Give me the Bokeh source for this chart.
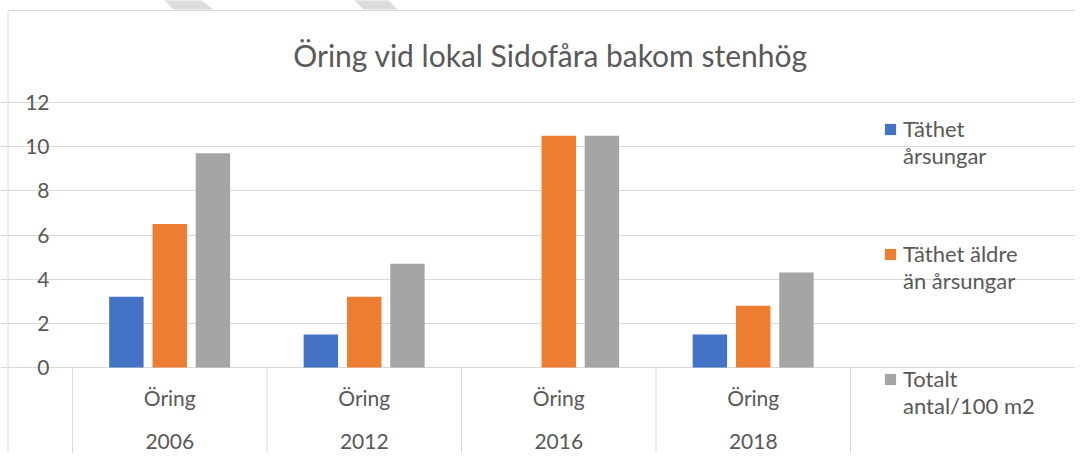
from bokeh.plotting import figure
from bokeh.models import Range1d, FixedTicker, Legend, LegendItem, Label, Grid
from bokeh.core.properties import value
from bokeh.embed import file_html
from bokeh.resources import INLINE

# ---- data ----
years = ["2006", "2012", "2016", "2018"]
species = ["Öring", "Öring", "Öring", "Öring"]
tathet_arsungar = [3.2, 1.5, 0.0, 1.5]
tathet_aldre = [6.5, 3.2, 10.5, 2.8]
totalt = [9.7, 4.7, 10.5, 4.3]
series_names = ["Täthet\nårsungar", "Täthet äldre\nän årsungar", "Totalt\nantal/100 m2"]
y_ticks = [0, 2, 4, 6, 8, 10, 12]
title_text = "Öring vid lokal Sidofåra bakom stenhög"

# ---- style / layout (pixels) ----
FONT = "Lato"
TXT = "#595959"
GRID = "#d9d9d9"
colors = ["#4472C4", "#ED7D31", "#A5A5A5"]

W, H = 1075, 453
n = len(years)
X0_PX = 72          # left edge of first category
PX_PER_X = 194.5    # width of one category
Y0_PX = 367         # baseline
PX_PER_Y = 22.083   # pixels per unit

x_start = -X0_PX / PX_PER_X
x_end = (W - X0_PX) / PX_PER_X
y_end = Y0_PX / PX_PER_Y
y_start = -(H - Y0_PX) / PX_PER_Y


def sx(px):
    return x_start + px / PX_PER_X


def sy(py):
    return y_end - py / PX_PER_Y


p = figure(width=W, height=H, output_backend="svg", toolbar_location=None,
           x_range=Range1d(x_start, x_end), y_range=Range1d(y_start, y_end),
           x_axis_type=None, y_axis_type=None,
           min_border_left=0, min_border_right=0, min_border_top=0, min_border_bottom=0)
p.outline_line_color = None
p.background_fill_color = "white"
p.border_fill_color = "white"

# decorative page fragments above the chart box
p.patches(xs=[[sx(163), sx(200), sx(213), sx(173)], [sx(353), sx(387), sx(397), sx(363)]],
          ys=[[sy(-1), sy(-1), sy(9), sy(9)], [sy(-1), sy(-1), sy(9), sy(9)]],
          fill_color="#dcdcdc", line_color=None)

# horizontal grid over the category area only
grid = Grid(dimension=1, ticker=FixedTicker(ticks=y_ticks), bounds=(0, n),
            grid_line_color=GRID, grid_line_width=1)
p.add_layout(grid)

# chart border (outer frame of the chart area)
p.quad(left=[sx(7.5)], right=[x_end + 1], top=[sy(10)], bottom=[y_start - 1],
       fill_color=None, line_color=GRID, line_width=1)

# y tick labels
p.text(x=[0] * len(y_ticks), y=y_ticks, text=[str(t) for t in y_ticks], x_offset=-23,
       text_align="right", text_baseline="middle", text_font=value(FONT),
       text_font_size=value("21px"), text_color=TXT)

# bars
offsets = [-0.223, 0.0, 0.222]
bar_w = 0.177
series = [tathet_arsungar, tathet_aldre, totalt]
renderers = []
for vals, off, col in zip(series, offsets, colors):
    xs = [i + 0.5 + off for i in range(n)]
    r = p.vbar(x=xs, top=vals, bottom=0, width=bar_w, fill_color=col, line_color=None)
    renderers.append(r)

# category separators
bounds = list(range(n + 1))
p.segment(x0=bounds, y0=[0] * len(bounds), x1=bounds, y1=[y_start] * len(bounds),
          line_color=GRID, line_width=1)

centers = [i + 0.5 for i in range(n)]
p.text(x=centers, y=[0] * n, text=species, y_offset=30, text_align="center",
       text_baseline="middle", text_font=value(FONT), text_font_size=value("21px"),
       text_color=TXT)
p.text(x=centers, y=[0] * n, text=years, y_offset=74, text_align="center",
       text_baseline="middle", text_font=value(FONT), text_font_size=value("21px"),
       text_color=TXT)

# title
title = Label(x=550, y=H - 54, x_units="screen", y_units="screen", text=title_text,
              text_align="center", text_baseline="middle", text_font=FONT,
              text_font_size="30px", text_color=TXT)
p.add_layout(title)

# legend (leading blank line keeps the swatch level with the first text line)
legend = Legend(items=[LegendItem(label=" \n" + nm, renderers=[r]) for nm, r in zip(series_names, renderers)],
                location=(883, 34), orientation="vertical", spacing=44,
                glyph_width=14, glyph_height=14, label_standoff=6,
                label_text_font=FONT, label_text_font_size="22px",
                label_text_color=TXT, label_text_line_height=1.32,
                border_line_color=None, background_fill_alpha=0,
                padding=0, margin=0)
p.add_layout(legend)

open("out.html", "w").write(file_html(p, INLINE))
